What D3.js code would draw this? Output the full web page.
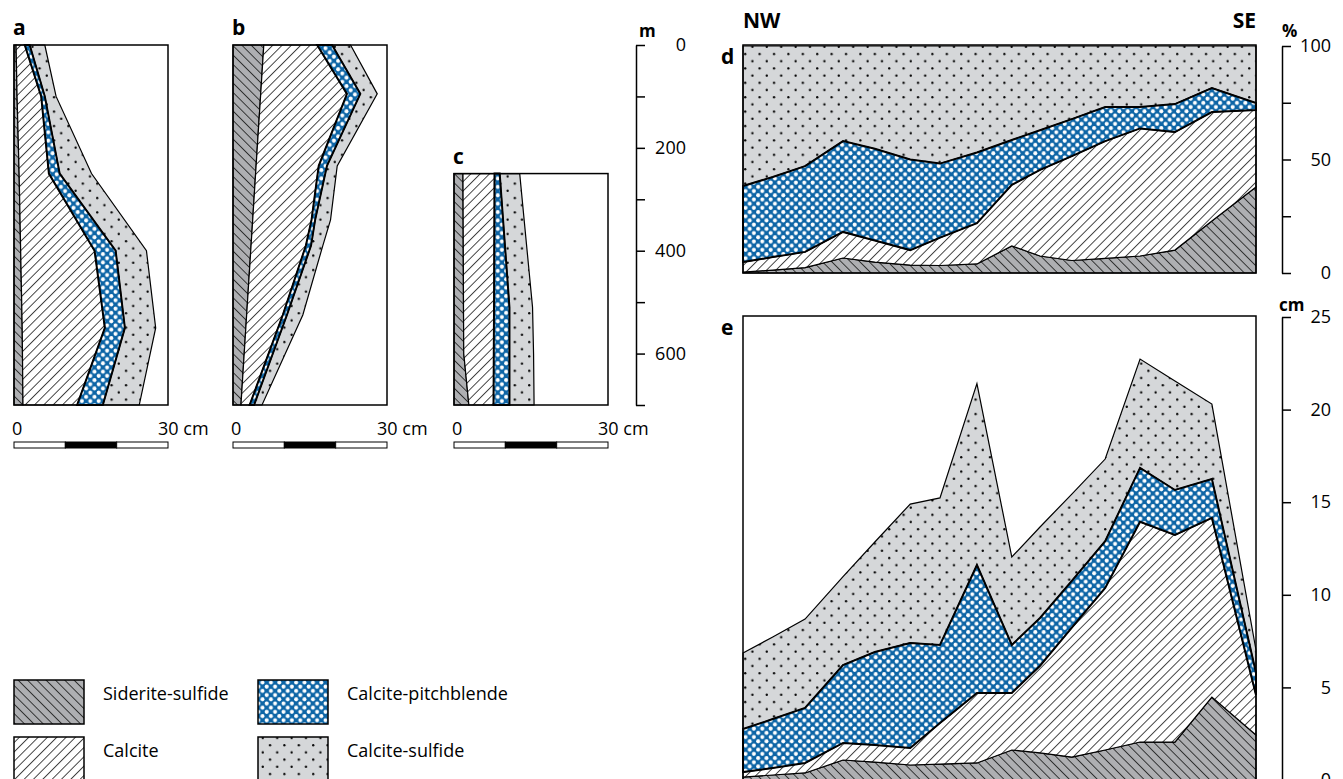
<!DOCTYPE html>
<html>
<head>
<meta charset="utf-8">
<script src="https://cdn.jsdelivr.net/npm/d3@7"></script>
<style>
    body { margin: 0; background: #fff; }
    svg { display: block; font-family: 'Open Sans', 'Noto Sans', sans-serif; }
    .lbl { font-weight: bold; font-size: 21px; }
    .unit { font-weight: bold; font-size: 17px; }
    .tick text { font-size: 18px; font-family: 'Open Sans', sans-serif; }
</style>
</head>
<body>
<script>
    'use strict';

    // layer keys, bottom to top
    var keys = ['sid', 'cal', 'pit', 'sul'];
    var layerNames = ['Siderite-sulfide', 'Calcite', 'Calcite-pitchblende', 'Calcite-sulfide'];

    // column a: thickness (cm) of each layer vs depth (m)
    var depthA = [0, 100, 250, 400, 550, 700];
    var sidA = [0.4, 0.6, 1.0, 1.3, 1.6, 1.75];
    var calA = [1.7, 4.7, 5.8, 14.4, 16.1, 10.55];
    var pitA = [0.95, 0.7, 2.1, 4.1, 3.9, 5.0];
    var sulA = [2.95, 2.2, 6.2, 6.0, 6.0, 7.1];

    // column b
    var depthB = [0, 95, 235, 340, 390, 525, 700];
    var sidB = [6.0, 5.4, 4.5, 3.84, 3.52, 2.66, 1.55];
    var calB = [10.4, 16.8, 12.2, 11.46, 10.68, 7.04, 1.7];
    var pitB = [2.9, 2.6, 1.6, 0.7, 1.0, 0.8, 0.85];
    var sulB = [3.6, 3.3, 2.0, 3.0, 2.3, 3.1, 1.55];

    // column c
    var depthC = [250, 510, 600, 700];
    var sidC = [1.75, 1.85, 1.9, 2.9];
    var calC = [6.15, 5.95, 5.85, 4.8];
    var pitC = [1.0, 3.0, 3.05, 3.1];
    var sulC = [3.9, 4.5, 4.7, 4.8];

    // NW-SE profile, sample positions (relative distance)
    var profilePos = [0, 5.8, 12.1, 19.5, 25.7, 32.6, 38.4, 45.6, 52.4, 57.9, 64.1, 70.6, 77.4, 84.2, 91.4, 100];

    // d: percent
    var sidPct = [0.4, 1.3, 2.4, 6.6, 4.8, 3.5, 3.3, 4.0, 11.9, 7.5, 5.5, 6.4, 7.5, 10.1, 22.9, 37.9];
    var calPct = [4.4, 5.7, 6.9, 11.5, 9.5, 6.6, 12.3, 18.0, 26.9, 37.9, 46.0, 51.7, 56.2, 52.0, 48.0, 33.9];
    var pitPct = [33.5, 35.3, 37.8, 40.0, 40.4, 39.9, 32.6, 31.1, 19.8, 17.5, 16.3, 15.0, 9.4, 12.3, 10.6, 3.1];
    var sulPct = [61.7, 57.7, 52.9, 41.9, 45.3, 50.0, 51.8, 46.9, 41.4, 37.1, 32.2, 26.9, 26.9, 25.6, 18.5, 25.1];

    // e: thickness in cm
    var sidCm = [0.16, 0.27, 0.38, 1.08, 0.97, 0.81, 0.86, 0.92, 1.62, 1.46, 1.24, 1.62, 2.05, 2.05, 4.48, 2.43];
    var calCm = [0.27, 0.38, 0.54, 0.92, 0.92, 0.92, 2.22, 3.78, 3.08, 4.71, 6.99, 8.75, 11.89, 11.18, 9.67, 2.16];
    var pitCm = [2.32, 2.64, 2.97, 4.21, 5.02, 5.67, 4.21, 6.91, 2.59, 2.58, 2.52, 2.53, 2.91, 2.43, 2.10, 1.19];
    var sulCm = [4.11, 4.43, 4.80, 4.77, 5.94, 7.5, 7.94, 9.79, 4.75, 4.91, 4.69, 4.43, 5.88, 5.88, 4.05, 1.24];

    var depthTicks = [0, 100, 200, 300, 400, 500, 600, 700];
    var pctTicks = [0, 25, 50, 75, 100];
    var cmTicks = [0, 5, 10, 15, 20, 25];

    var svg = d3.select('body').append('svg')
        .attr('width', 1343)
        .attr('height', 779);

    /* * * * * * * * PATTERNS * * * * * * * */
    var defs = svg.append('defs');

    function hatch(id, bg, angle) {
        var p = defs.append('pattern')
            .attr('id', id)
            .attr('patternUnits', 'userSpaceOnUse')
            .attr('width', 6.6)
            .attr('height', 10)
            .attr('patternTransform', `rotate(${angle})`);
        p.append('rect').attr('width', 6.6).attr('height', 10).attr('fill', bg);
        p.append('line')
            .attr('x1', 0.5).attr('x2', 0.5)
            .attr('y1', 0).attr('y2', 10)
            .attr('stroke', '#111')
            .attr('stroke-width', 0.8);
    }
    hatch('pat-sid', '#aeafb2', -45);
    hatch('pat-cal', '#fff', 45);

    var pit = defs.append('pattern')
        .attr('id', 'pat-pit')
        .attr('patternUnits', 'userSpaceOnUse')
        .attr('width', 8.4)
        .attr('height', 8.4);
    pit.append('rect').attr('width', 8.4).attr('height', 8.4).attr('fill', '#0d65a6');
    [[2.1, 2.1], [6.3, 6.3]].forEach(c => {
        pit.append('circle').attr('cx', c[0]).attr('cy', c[1]).attr('r', 2.0).attr('fill', '#fff');
    });

    var sul = defs.append('pattern')
        .attr('id', 'pat-sul')
        .attr('patternUnits', 'userSpaceOnUse')
        .attr('width', 14.4)
        .attr('height', 14.4);
    sul.append('rect').attr('width', 14.4).attr('height', 14.4).attr('fill', '#d5d7d9');
    [[3.6, 3.6], [10.8, 10.8]].forEach(c => {
        sul.append('circle').attr('cx', c[0]).attr('cy', c[1]).attr('r', 1.15).attr('fill', '#000');
    });

    var fills = {sid: 'url(#pat-sid)', cal: 'url(#pat-cal)', pit: 'url(#pat-pit)', sul: 'url(#pat-sul)'};
    var strokeW = {sid: 1.2, cal: 1.2, pit: 2, sul: 1.2};

    function makeRows(pos, sid, cal, pit, sul) {
        return pos.map((p, i) => ({pos: p, sid: sid[i], cal: cal[i], pit: pit[i], sul: sul[i]}));
    }

    var stack = d3.stack().keys(keys);

    /* * * * * * * * COLUMNS a, b, c * * * * * * * */
    var yDepth = d3.scaleLinear().domain([0, 700]).range([45, 405]);
    var columns = [
        {label: 'a', left: 14, rows: makeRows(depthA, sidA, calA, pitA, sulA)},
        {label: 'b', left: 233, rows: makeRows(depthB, sidB, calB, pitB, sulB)},
        {label: 'c', left: 454, rows: makeRows(depthC, sidC, calC, pitC, sulC)}
    ];

    columns.forEach(col => {
        var x = d3.scaleLinear().domain([0, 30]).range([col.left, col.left + 154]);
        var g = svg.append('g');
        var series = stack(col.rows);
        var area = d3.area()
            .y(d => yDepth(d.data.pos))
            .x0(d => x(d[0]))
            .x1(d => x(d[1]));

        // draw top layer first so the thick pitchblende outline sits above
        [0, 1, 3, 2].forEach(i => {
            g.append('path')
                .attr('d', area(series[i]))
                .attr('fill', fills[keys[i]])
                .attr('stroke', '#000')
                .attr('stroke-width', strokeW[keys[i]])
                .attr('stroke-linejoin', 'miter');
        });

        var top = yDepth(col.rows[0].pos);
        g.append('rect')
            .attr('x', x(0))
            .attr('y', top)
            .attr('width', x(30) - x(0))
            .attr('height', yDepth(700) - top)
            .attr('fill', 'none')
            .attr('stroke', '#000')
            .attr('stroke-width', 1.5);

        g.append('text')
            .attr('class', 'lbl')
            .attr('x', col.left - 1)
            .attr('y', top - 10)
            .text(col.label);

        // scale bar
        [0, 1, 2].forEach(i => {
            g.append('rect')
                .attr('x', x(i * 10))
                .attr('y', 442)
                .attr('width', x(10) - x(0))
                .attr('height', 6)
                .attr('fill', i === 1 ? '#000' : '#fff')
                .attr('stroke', '#000')
                .attr('stroke-width', 1);
        });
        g.append('text').attr('x', x(0) - 2).attr('y', 435).attr('font-size', 18).text('0');
        g.append('text').attr('x', x(30) - 10).attr('y', 435).attr('font-size', 18).text('30 cm');
    });

    // depth axis
    var depthAxis = svg.append('g')
        .attr('transform', 'translate(636,0)')
        .call(d3.axisRight(yDepth)
            .tickValues(depthTicks)
            .tickSize(9)
            .tickSizeOuter(0)
            .tickFormat(d => d % 200 === 0 ? d : ''));
    depthAxis.selectAll('path, line').attr('stroke', '#000').attr('stroke-width', 1.5);
    depthAxis.selectAll('text').attr('text-anchor', 'end').attr('x', 50).attr('fill', '#000');
    svg.append('text').attr('class', 'unit').attr('x', 639).attr('y', 37).text('m');

    /* * * * * * * * PROFILE d, e * * * * * * * */
    var xProf = d3.scaleLinear().domain([0, 100]).range([743, 1256]);
    var yPct = d3.scaleLinear().domain([0, 100]).range([273, 46]);
    var yCm = d3.scaleLinear().domain([0, 25]).range([780, 317]);

    function drawProfile(rows, y, top, bottom, label) {
        var g = svg.append('g');
        var series = stack(rows);
        var area = d3.area()
            .x(d => xProf(d.data.pos))
            .y0(d => y(d[0]))
            .y1(d => y(d[1]));

        [0, 1, 3, 2].forEach(i => {
            g.append('path')
                .attr('d', area(series[i]))
                .attr('fill', fills[keys[i]])
                .attr('stroke', '#000')
                .attr('stroke-width', strokeW[keys[i]]);
        });

        g.append('rect')
            .attr('x', xProf(0))
            .attr('y', top)
            .attr('width', xProf(100) - xProf(0))
            .attr('height', bottom - top)
            .attr('fill', 'none')
            .attr('stroke', '#000')
            .attr('stroke-width', 1.5);

        g.append('text')
            .attr('class', 'lbl')
            .attr('x', 721)
            .attr('y', top + 19)
            .text(label);
    }

    drawProfile(makeRows(profilePos, sidPct, calPct, pitPct, sulPct), yPct, 45, 273, 'd');
    drawProfile(makeRows(profilePos, sidCm, calCm, pitCm, sulCm), yCm, 316, 780, 'e');

    svg.append('text').attr('class', 'lbl').attr('x', 743).attr('y', 28).text('NW');
    svg.append('text').attr('class', 'lbl').attr('x', 1256).attr('y', 28)
        .attr('text-anchor', 'end').text('SE');

    function rightAxis(scale, ticks, labelled) {
        var ax = svg.append('g')
            .attr('transform', 'translate(1282,0)')
            .call(d3.axisRight(scale)
                .tickValues(ticks)
                .tickSize(9)
                .tickSizeOuter(0)
                .tickFormat(d => labelled.indexOf(d) >= 0 ? d : ''));
        ax.selectAll('path, line').attr('stroke', '#000').attr('stroke-width', 1.5);
        ax.selectAll('text').attr('text-anchor', 'end').attr('x', 49).attr('fill', '#000');
    }
    rightAxis(yPct, pctTicks, [0, 50, 100]);
    rightAxis(yCm, cmTicks, cmTicks);
    svg.append('text').attr('class', 'unit').attr('x', 1282).attr('y', 37).text('%');
    svg.append('text').attr('class', 'unit').attr('x', 1279).attr('y', 311).text('cm');

    /* * * * * * * * LEGEND * * * * * * * */
    var legendPos = [[14, 680], [14, 737], [258, 680], [258, 737]];
    keys.forEach((k, i) => {
        var p = legendPos[i];
        svg.append('rect')
            .attr('x', p[0])
            .attr('y', p[1])
            .attr('width', 70)
            .attr('height', 44)
            .attr('fill', fills[k])
            .attr('stroke', '#000')
            .attr('stroke-width', 1.5);
        svg.append('text')
            .attr('x', p[0] + 89)
            .attr('y', p[1] + 20)
            .attr('font-size', 18)
            .text(layerNames[i]);
    });
</script>
</body>
</html>
